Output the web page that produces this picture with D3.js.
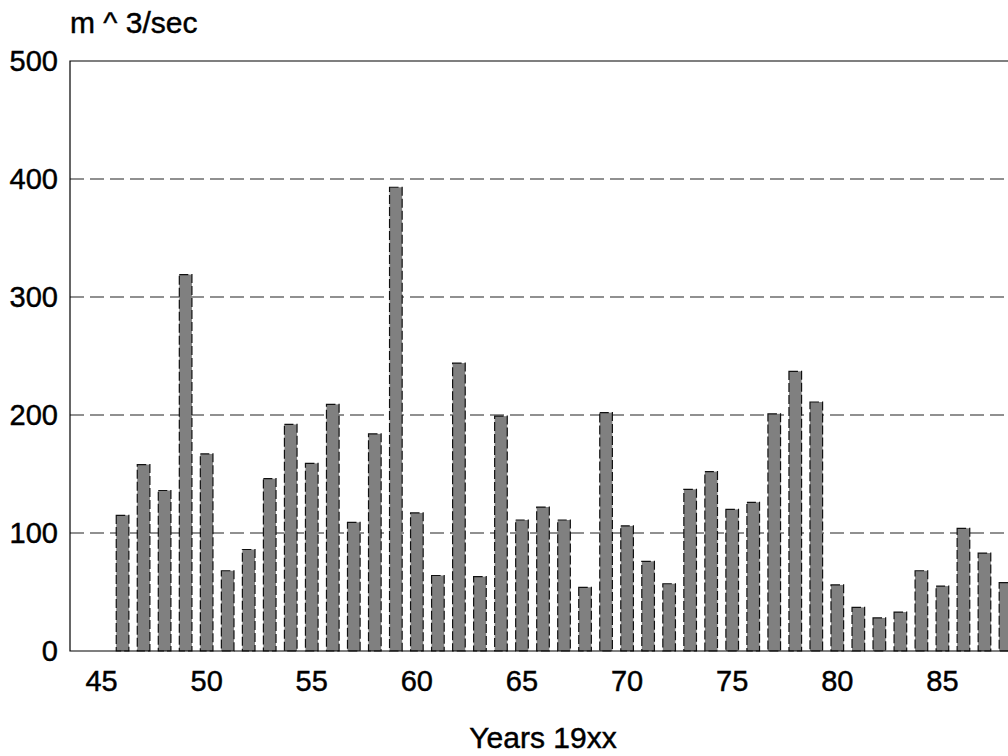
<!DOCTYPE html>
<html>
<head>
<meta charset="utf-8">
<script src="https://cdn.jsdelivr.net/npm/d3@7"></script>
<style>
  html, body { margin: 0; padding: 0; background: #fff; overflow: hidden; }
  text { font-family: "Liberation Sans", Arial, Helvetica, sans-serif; fill: #000; stroke: #000; stroke-width: 0.45px; }
</style>
</head>
<body>
<div id="chart"></div>
<script>
// Annual flow values.
const years = [46, 47, 48, 49, 50, 51, 52, 53, 54, 55, 56, 57, 58, 59, 60, 61, 62, 63, 64, 65, 66,
  67, 68, 69, 70, 71, 72, 73, 74, 75, 76, 77, 78, 79, 80, 81, 82, 83, 84, 85, 86, 87, 88];
const flow = [115, 158, 136, 319, 167, 68, 86, 146, 192, 159, 209, 109, 184, 393, 117, 64, 244, 63, 199, 111, 122,
  111, 54, 202, 106, 76, 57, 137, 152, 120, 126, 201, 237, 211, 56, 37, 28, 33, 68, 55, 104, 83, 58];
const xTicks = [45, 50, 55, 60, 65, 70, 75, 80, 85];
const yTicks = [0, 100, 200, 300, 400, 500];
const gridTicks = [100, 200, 300, 400];

const svgWidth = 1008, svgHeight = 756;
const margin = { top: 61, left: 70 };
const plotRight = 1016, plotBottom = 651;

const svg = d3.select("#chart")
  .append("svg")
  .attr("width", svgWidth)
  .attr("height", svgHeight);

// scales
const x = d3.scaleLinear().domain([43.5, 88.5]).range([margin.left, plotRight]);
const y = d3.scaleLinear().domain([0, 500]).range([plotBottom, margin.top]);
const barWidth = (x(1) - x(0)) * 0.6;

// dashed grid lines
svg.append("g")
  .selectAll("line")
  .data(gridTicks)
  .join("line")
  .attr("x1", margin.left)
  .attr("x2", plotRight)
  .attr("y1", d => y(d))
  .attr("y2", d => y(d))
  .attr("stroke", "#222")
  .attr("stroke-width", 1.2)
  .attr("stroke-dasharray", "14,6");

// bars with dashed outline
svg.append("g")
  .selectAll("rect")
  .data(years)
  .join("rect")
  .attr("x", d => x(d) - barWidth / 2)
  .attr("y", (d, i) => y(flow[i]))
  .attr("width", barWidth)
  .attr("height", (d, i) => plotBottom - y(flow[i]))
  .attr("fill", "#808080")
  .attr("stroke", "#111")
  .attr("stroke-width", 1.2)
  .attr("stroke-dasharray", "9,3");

// frame: top, left, bottom
svg.append("path")
  .attr("d", `M${plotRight},${margin.top}H${margin.left}V${plotBottom}H${plotRight}`)
  .attr("fill", "none")
  .attr("stroke", "#000")
  .attr("stroke-width", 1.2);

// y tick labels
svg.append("g")
  .selectAll("text")
  .data(yTicks)
  .join("text")
  .attr("x", margin.left - 12)
  .attr("y", d => y(d))
  .attr("dy", "0.36em")
  .attr("text-anchor", "end")
  .attr("font-size", "29px")
  .text(d => d);

// x tick labels
svg.append("g")
  .selectAll("text")
  .data(xTicks)
  .join("text")
  .attr("x", d => x(d))
  .attr("y", 691)
  .attr("text-anchor", "middle")
  .attr("font-size", "29px")
  .text(d => d);

// axis titles
svg.append("text")
  .attr("x", margin.left)
  .attr("y", 33)
  .attr("font-size", "30px")
  .text("m ^ 3/sec");

svg.append("text")
  .attr("x", (margin.left + plotRight) / 2)
  .attr("y", 748)
  .attr("text-anchor", "middle")
  .attr("font-size", "30px")
  .text("Years 19xx");
</script>
</body>
</html>
